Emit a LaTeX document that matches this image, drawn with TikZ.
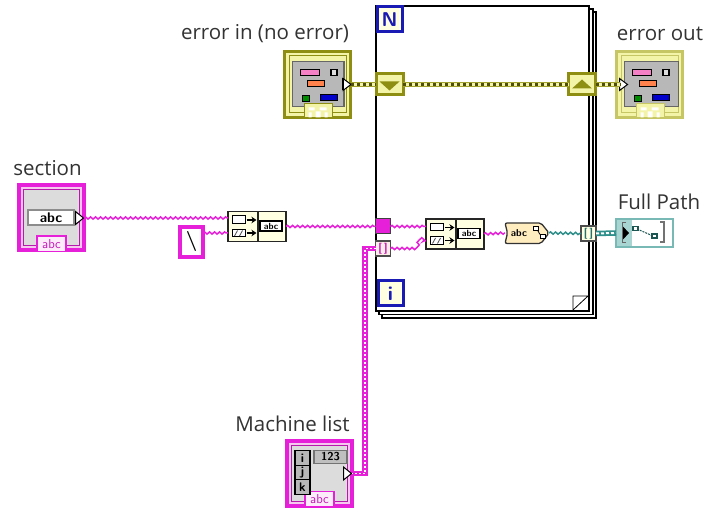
\documentclass[tikz,border=0pt]{standalone}
\usepackage{fontspec}
\setmainfont{Open Sans}
\usetikzlibrary{decorations.pathmorphing,calc,arrows.meta}
\definecolor{strpink}{HTML}{E61FD8}
\definecolor{palepink}{HTML}{F6C8F0}
\definecolor{olivec}{HTML}{8E8E12}
\definecolor{paleol}{HTML}{F4F4A8}
\definecolor{tealc}{HTML}{2F8F8A}
\definecolor{paleteal}{HTML}{A8D4D2}
\definecolor{loopblue}{HTML}{1A1AB4}
\definecolor{ivory}{HTML}{FFFFE1}
\definecolor{panel}{HTML}{DCDCDC}
\tikzset{
  x=1pt,y=-1pt,
  lbl/.style={font=\fontsize{20.5}{22}\selectfont,text=black!80,inner sep=0pt},
  box/.style={inner sep=0pt,outer sep=0pt,minimum width=#1},
  strwire/.style={draw=strpink,line width=1.5pt,decorate,decoration={snake,segment length=5pt,amplitude=1.1pt}},
  pathwire/.style={draw=tealc,line width=1.5pt,decorate,decoration={snake,segment length=5pt,amplitude=1.1pt}},
  strarr/.style={draw=strpink,line width=5.5pt,postaction={draw=white,line width=1.8pt,dash pattern=on 2pt off 2pt}},
  patharr/.style={draw=tealc,line width=5.5pt,postaction={draw=white,line width=2pt,dash pattern=on 3pt off 2pt}},
  errwire/.style={draw=olivec!80!paleol,line width=5pt,postaction={draw=paleol,line width=2.6pt,postaction={draw=olivec!55!black,line width=2.6pt,dash pattern=on 3pt off 3pt}}},
  term/.style={box=69pt,minimum height=69pt},
  concat/.style={box=58pt,minimum height=30pt,draw=black!85,line width=1.4pt,fill=ivory},
  tunnel/.style={box=15pt,minimum height=15pt,draw=black!70,line width=1.2pt},
  errtun/.style={box=27pt,minimum height=21pt,fill=paleol,draw=olivec,line width=3pt},
  lbox/.style={box=25pt,minimum height=25pt,draw=loopblue,line width=3pt,fill=ivory,font=\sffamily\bfseries\fontsize{20}{20}\selectfont,text=loopblue},
  tinyt/.style={inner sep=0pt,font=\sffamily\bfseries\fontsize{#1}{#1}\selectfont},
  loopframe/.style={draw=black,line width=1.3pt,fill=white},
  pics/strframe/.style={code={
    \fill[strpink] (-34.5,-34.5) rectangle (34.5,34.5);
    \fill[palepink] (-30.5,-30.5) rectangle (30.5,30.5);
    \draw[strpink!80!black,line width=1pt,fill=panel] (-28,-28) rectangle (28,28);
    \draw[strpink,line width=1.2pt,fill=palepink!35!white] (-14.5,18) rectangle (14.5,33.5);
    \node[inner sep=0pt,font=\sffamily\fontsize{13}{13}\selectfont,text=strpink!85!black] at (0,26) {abc};
    \draw[black,line width=1pt,fill=white] (24,-6.5) -- (32,0) -- (24,6.5) -- cycle;
    \draw[black,line width=1.8pt] (24,-6.5) -- (24,6.5);
  }},
  pics/errframe/.style n args={3}{code={
    \fill[#1] (-34.5,-34.5) rectangle (34.5,34.5);
    \fill[paleol] (-31.5,-31.5) rectangle (31.5,31.5);
    \draw[#1,line width=1pt] (-28.5,-28.5) rectangle (28.5,28.5);
    \draw[black!60,line width=1.4pt,fill=black!28] (-25,-23) rectangle (#3,22);
    \draw[black,line width=.9pt,fill=magenta!50!white] (-17.5,-15) rectangle (1.5,-9);
    \draw[black,line width=1.1pt,fill=panel] (13.5,-15) rectangle (19.5,-9);
    \draw[black,line width=.9pt,fill=orange!60!red!70] (-10.5,-4) rectangle (6.5,2);
    \draw[black,line width=.9pt,fill=green!55!black] (-15.5,11) rectangle (-8.5,17);
    \draw[black,line width=.9pt,fill=blue!80!black] (2.5,9.5) rectangle (19.5,15.5);
    \draw[#1,line width=1pt,fill=paleol] (-13.5,19.5) rectangle (14.5,33.5);
    \fill[white] (-9,23) rectangle (-3,26) (2,23) rectangle (9,26) (-9,28) rectangle (-6,33) (-2,27) rectangle (3,33) (7,28) rectangle (10,33);
    \draw[black,line width=1pt,fill=white] (#2,-6) -- ++(8,6) -- ++(-8,6) -- cycle;
    \draw[black,line width=1.8pt] (#2,-6) -- ++(0,12);
  }},
  pics/concatglyph/.style={code={
    \draw[black!85,line width=1.4pt] (1,-15) -- (1,15);
    \draw[black,line width=1pt,fill=white] (-24.5,-10.5) rectangle (-12,-3);
    \draw[black,line width=1pt,fill=white] (-24.5,3) rectangle (-12,10.5);
    \draw[black!70,line width=.8pt] (-22.5,9.5) -- (-19.5,4) (-17.5,9.5) -- (-14.5,4);
    \draw[black,line width=1.4pt,-{Stealth[length=5pt,width=6.5pt]}] (-10.5,-6.5) -- (-.5,-6.5);
    \draw[black,line width=1.4pt,-{Stealth[length=5pt,width=6.5pt]}] (-10.5,6.5) -- (-.5,6.5);
    \node[draw=black,line width=1.1pt,fill=white,minimum width=22pt,minimum height=10pt,inner sep=0pt,tinyt=9] at (14,-.5) {abc};
  }},
}
\begin{document}
\begin{tikzpicture}
\useasboundingbox[fill=white] (0,0) rectangle (704,510);

% while loop stacked frames
\draw[loopframe] (382,12) rectangle (596,318);
\draw[loopframe] (379,9) rectangle (593,314.5);
\draw[loopframe] (376,6) rectangle (589,311);
\draw[black,line width=.8pt,fill=white] (573,310) -- (573,296) -- (588,296) -- cycle;
\node[lbox] (nbox) at (389.5,19.5) {N};
\node[lbox] (ibox) at (390.5,293.5) {i};

% labels
\node[lbl,anchor=center] (l1) at (265,33.5) {error in (no error)};
\node[lbl,anchor=center] (l2) at (660,33.5) {error out};
\node[lbl,anchor=center] (l3) at (47.5,168) {section};
\node[lbl,anchor=center] (l4) at (659,202) {Full Path};
\node[lbl,anchor=center] (l5) at (292.5,424) {Machine list};

% terminals
\node[term] (errin) at (317.5,84.5) {};
\pic at (errin.center) {errframe={olivec}{25.5}{26.5}};
\node[term] (errout) at (649.5,84.5) {};
\pic at (errout.center) {errframe={olivec!45!paleol}{-30}{29}};
\node[term] (section) at (51.5,218) {};
\pic at (section.center) {strframe};
\node[draw=black!45,line width=2pt,fill=white,minimum width=46pt,minimum height=15pt,inner sep=0pt,font=\sffamily\bfseries\fontsize{14}{14}\selectfont] (sctl) at (51,218) {abc};
\node[term] (mlist) at (319.5,473.5) {};
\pic at (mlist.center) {strframe};
\node[box=33pt,minimum height=13pt,draw=black!55,line width=1.2pt,fill=black!25,font=\sffamily\bfseries\fontsize{11.5}{11.5}\selectfont] (num) at (330.5,457) {123};
\foreach \n/\t/\yy in {mi/i/458,mj/j/472.5,mk/k/487}{
  \node[box=15pt,minimum height=14.5pt,draw=black,line width=1.2pt,fill=black!28,font=\sffamily\bfseries\fontsize{12.5}{12.5}\selectfont] (\n) at (302.5,\yy) {\t};
}

% constant and functions
\node[box=23pt,minimum height=30pt,draw=strpink,line width=4pt,fill=white,font=\sffamily\bfseries\fontsize{20}{20}\selectfont] (slash) at (191.5,242) {\textbackslash};
\node[concat] (c1) at (257,226.5) {};
\pic at (c1.center) {concatglyph};
\node[concat] (c2) at (455,234) {};
\pic at (c2.center) {concatglyph};
\node[box=44pt,minimum height=21pt] (conv) at (527,233) {};
\draw[black!80,line width=1.3pt,fill=ivory!85!orange,rounded corners=2pt]
  (505,223) -- (541,223) -- (549,233) -- (541,243.5) -- (505,243.5) -- (507.5,233) -- cycle;
\node[tinyt=10] (convt) at (519,233.5) {abc};
\draw[black,line width=1pt,fill=white] (533,226.5) rectangle (538,231) (540,234.5) rectangle (545,239);
\draw[black,line width=.8pt] (538,231) -- (540,234.5);

% tunnels
\node[errtun] (tl) at (389.5,84.5) {};
\fill[olivec] ($(tl.center)+(-10,-3)$) -- ++(20,0) -- ++(-10,9) -- cycle;
\node[errtun] (tr) at (582,84.5) {};
\fill[olivec] ($(tr.center)+(-10,4)$) -- ++(20,0) -- ++(-10,-9) -- cycle;
\node[box=15pt,minimum height=15pt,draw=black!75,line width=1pt,fill=strpink] (sht) at (383,226.5) {};
\node[tunnel,fill=ivory!70!palepink,text=strpink!85!black,font=\sffamily\bfseries\fontsize{11}{11}\selectfont] (idx) at (383,248.5) {[\,]};
\node[tunnel,fill=ivory,text=tealc!80!black,font=\sffamily\bfseries\fontsize{11}{11}\selectfont] (ot) at (588.5,233.5) {[\,]};

% indicator
\node[box=57pt,minimum height=28pt,draw=paleteal!60!tealc,line width=1.6pt,fill=white] (fp) at (644.5,233) {};
\fill[paleteal] (617,220) rectangle (632,246);
\fill[black] (622.5,226) -- (629,233) -- (622.5,240) -- cycle;
\draw[black!60,line width=1pt] (626,223) -- (622,223) -- (622,243) -- (626,243);
\draw[tealc!60!black,line width=1pt,dash pattern=on 2pt off 1pt] (637,229) -- (653,236);
\draw[tealc!60!black,line width=1.1pt,fill=white] (633,226.5) rectangle (638,230.5) (652,234) rectangle (657,238);
\draw[black!55,line width=1.3pt] (660,222) -- (664,222) -- (664,242) -- (660,242);

% connectors
\coordinate (c1a) at (228,218);
\coordinate (c1b) at (228,233);
\coordinate (c2a) at (426,226.5);
\coordinate (c2b) at (426,241);
\coordinate (sectout) at (84,218);
\coordinate (mout) at (352,473.5);
\draw[errwire] (351,84.5) -- (tl.west);
\draw[errwire] (tl.east) -- (tr.west);
\draw[errwire] (tr.east) -- (620,84.5);
\draw[strwire] (sectout) -- (c1a);
\draw[strwire] (slash.east |- c1b) -- (c1b);
\draw[strwire] (c1.east) -- (sht.west);
\draw[strwire] (sht.east) -- (c2a);
\draw[strwire] (idx.east) -- (417,248.5) -- (417,241) -- (c2b);
\draw[strwire] (c2.east) -- (conv.west);
\draw[pathwire] (conv.east) -- (ot.west);
\draw[patharr] (ot.east) -- (fp.west);
\draw[strarr] (idx.west) -- (365,248.5) -- (365,473.5) -- (mout);
\end{tikzpicture}
\end{document}
